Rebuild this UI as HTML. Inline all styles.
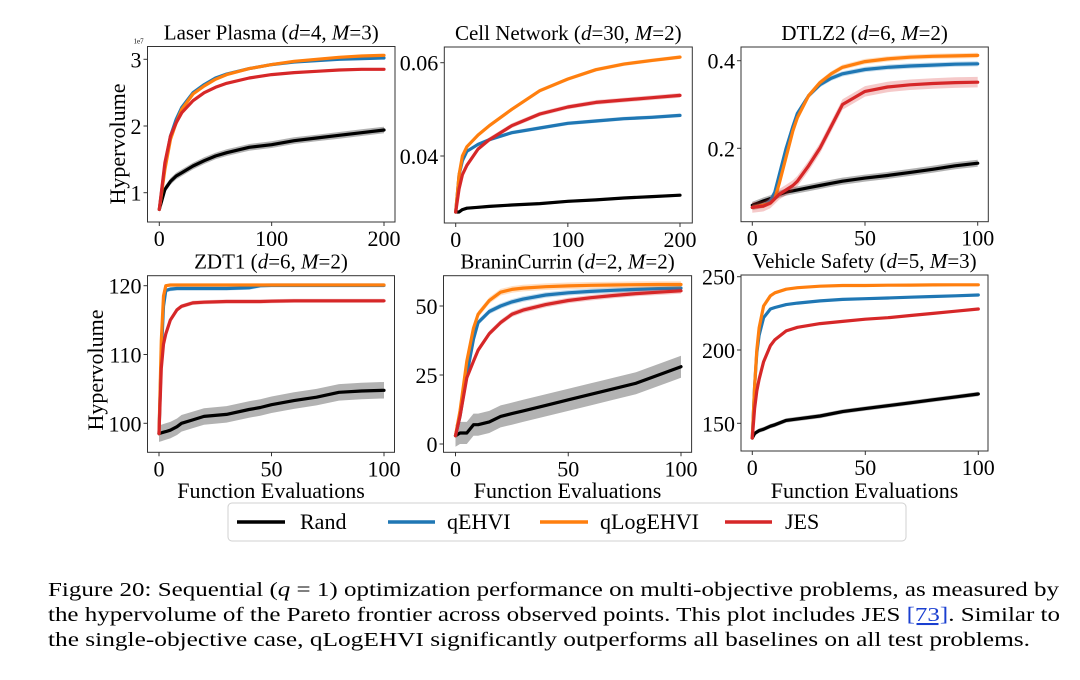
<!DOCTYPE html>
<html><head><meta charset="utf-8">
<style>
html,body{margin:0;padding:0;background:#fff;}
svg{display:block;font-family:"Liberation Serif",serif;}
</style></head>
<body>
<svg id="fig" width="1080" height="680" viewBox="0 0 1080 680" xmlns="http://www.w3.org/2000/svg">
<g id="plots"></g>
<g>
  <rect x="228" y="503" width="678" height="38" rx="4" fill="#fff" stroke="#d0d0d0" stroke-width="1"/>
  <line x1="237" y1="522" x2="285" y2="522" stroke="#000" stroke-width="3.5"/>
  <text x="300" y="529" font-size="22">Rand</text>
  <line x1="388" y1="522" x2="435" y2="522" stroke="#1f77b4" stroke-width="3.5"/>
  <text x="447" y="529" font-size="22">qEHVI</text>
  <line x1="540" y1="522" x2="588" y2="522" stroke="#ff7f0e" stroke-width="3.5"/>
  <text x="600" y="529" font-size="22">qLogEHVI</text>
  <line x1="725" y1="522" x2="772" y2="522" stroke="#d62728" stroke-width="3.5"/>
  <text x="785" y="529" font-size="22">JES</text>
</g>
<g font-size="20.5">
  <text x="48" y="596" textLength="1011" lengthAdjust="spacingAndGlyphs">Figure 20: Sequential (<tspan font-style="italic">q</tspan> = 1) optimization performance on multi-objective problems, as measured by</text>
  <text x="48" y="621" textLength="1012" lengthAdjust="spacingAndGlyphs">the hypervolume of the Pareto frontier across observed points. This plot includes JES <tspan fill="#1a3fd0" text-decoration="underline">[73]</tspan>. Similar to</text>
  <text x="48" y="646" textLength="982" lengthAdjust="spacingAndGlyphs">the single-objective case, qLogEHVI significantly outperforms all baselines on all test problems.</text>
</g>
</svg>
<script>
// ---- data ----
const laserX = [0,5,10,15,20,30,40,50,60,80,100,120,140,160,180,200];
const laserRand = [0.75,1.05,1.17,1.25,1.3,1.4,1.48,1.55,1.6,1.68,1.72,1.78,1.82,1.86,1.9,1.94];
const laserQEHVI = [0.75,1.4,1.85,2.1,2.28,2.5,2.62,2.72,2.78,2.86,2.92,2.96,2.98,3.0,3.01,3.02];
const laserQLog = [0.75,1.35,1.8,2.05,2.25,2.48,2.6,2.7,2.77,2.86,2.92,2.97,3.0,3.03,3.05,3.06];
const laserJES = [0.75,1.45,1.85,2.05,2.2,2.38,2.5,2.58,2.64,2.72,2.77,2.8,2.82,2.84,2.85,2.85];
const laserBand = [0.05,0.02,0.02,0.02];

const cellX = [0,3,6,10,20,30,50,75,100,125,150,175,200];
const cellRand = [0.028,0.028,0.0285,0.0288,0.029,0.0292,0.0295,0.0298,0.0303,0.0306,0.031,0.0313,0.0316];
const cellQEHVI = [0.028,0.036,0.039,0.041,0.0425,0.0435,0.045,0.046,0.047,0.0475,0.048,0.0483,0.0487];
const cellQLog = [0.028,0.036,0.04,0.042,0.0445,0.0465,0.050,0.054,0.0565,0.0585,0.0597,0.0605,0.0612];
const cellJES = [0.028,0.033,0.036,0.038,0.0415,0.0435,0.0465,0.049,0.0505,0.0515,0.052,0.0525,0.053];
const cellBand = [0.0003,0.0004,0.0004,0.0005];

const dtlzX = [0,5,8,10,12,15,18,20,25,30,35,40,50,60,70,80,90,100];
const dtlzRand = [0.07,0.08,0.085,0.09,0.095,0.1,0.103,0.105,0.11,0.115,0.12,0.125,0.132,0.138,0.145,0.152,0.16,0.166];
const dtlzQEHVI = [0.065,0.07,0.08,0.1,0.14,0.2,0.25,0.28,0.32,0.345,0.36,0.37,0.38,0.385,0.388,0.39,0.392,0.393];
const dtlzQLog = [0.065,0.07,0.075,0.085,0.12,0.18,0.24,0.27,0.32,0.35,0.37,0.385,0.398,0.404,0.408,0.41,0.411,0.412];
const dtlzJES = [0.065,0.068,0.075,0.085,0.095,0.105,0.115,0.125,0.16,0.2,0.25,0.3,0.33,0.34,0.345,0.348,0.35,0.351];
const dtlzBand = [0.008,0.006,0.006,0.012];

const zdtX = [0,1,2,3,5,8,10,15,20,30,40,45,50,60,70,80,90,100];
const zdtRand = [98.5,98.6,98.7,98.8,99,99.5,100,100.5,101,101.3,102,102.3,102.7,103.3,103.8,104.5,104.7,104.8];
const zdtQEHVI = [98.5,110,117,119.3,119.5,119.6,119.6,119.6,119.6,119.6,119.7,120,120.05,120.05,120.05,120.05,120.05,120.05];
const zdtQLog = [98.5,112,118.5,120,120.1,120.1,120.1,120.1,120.1,120.1,120.1,120.1,120.1,120.1,120.1,120.1,120.1,120.1];
const zdtJES = [98.5,108,111.5,113,115,116.5,117,117.5,117.6,117.7,117.7,117.7,117.75,117.8,117.8,117.8,117.8,117.8];
const zdtBand = [1.2,0.3,0.2,0.3];

const braninX = [0,2,5,8,10,15,20,25,30,40,50,60,70,80,90,100];
const braninRand = [3,4,4,7,7,8,10,11,12,14,16,18,20,22,25,28];
const braninQEHVI = [3,10,25,38,44,48,50,51.5,52.5,54,54.8,55.3,55.7,56,56.3,56.5];
const braninQLog = [3,12,30,42,47,52,55,56,56.5,57,57.3,57.5,57.6,57.7,57.8,57.8];
const braninJES = [3,10,24,30,34,40,44,47,48.5,50.5,52,53,53.8,54.5,55,55.5];
const braninBand = [4,1,1.2,1];

const vehicleX = [0,1,2,3,5,8,10,15,20,30,40,50,60,70,80,90,100];
const vehicleRand = [140,143,144,145,146,148,149,152,153,155,158,160,162,164,166,168,170];
const vehicleQEHVI = [140,175,198,210,222,228,229,231,232,233.5,234.5,235,235.5,236,236.5,237,237.5];
const vehicleQLog = [140,175,200,215,230,237,239,241.5,242.5,243.5,244,244,244.2,244.3,244.4,244.5,244.5];
const vehicleJES = [140,160,172,180,192,203,207,213,215.5,218,219.5,221,222,223.5,225,226.5,228];
const vehicleBand = [1.5,0.8,0.6,0.8];

const laserXTicks = [0,100,200], laserYTicks = [1,2,3];
const cellXTicks = [0,100,200], cellYTicks = [0.04,0.06];
const dtlzXTicks = [0,50,100], dtlzYTicks = [0.2,0.4];
const zdtXTicks = [0,50,100], zdtYTicks = [100,110,120];
const braninXTicks = [0,50,100], braninYTicks = [0,25,50];
const vehicleXTicks = [0,50,100], vehicleYTicks = [150,200,250];

// ---- layout ----
const NS = "http://www.w3.org/2000/svg";
const COLORS = ["#000000","#1f77b4","#ff7f0e","#d62728"];
const SNAMES = ["rand","qehvi","qlogehvi","jes"];
const plots = [
 {id:"laser-plasma", title:'Laser Plasma (<tspan font-style="italic">d</tspan>=4, <tspan font-style="italic">M</tspan>=3)', box:[147.5,46.5,395,222], xa:[0,159.3,200,384], ya:[1,192.7,3,59.3], x:laserX, s:[laserRand,laserQEHVI,laserQLog,laserJES], band:laserBand, xt:laserXTicks, yt:laserYTicks, fmt:v=>String(v), ylab:[118,144], xlab:false, exp:true},
 {id:"cell-network", title:'Cell Network (<tspan font-style="italic">d</tspan>=30, <tspan font-style="italic">M</tspan>=2)', box:[444.3,47,692.3,223], xa:[0,455.7,200,680], ya:[0.04,156,0.06,62.7], x:cellX, s:[cellRand,cellQEHVI,cellQLog,cellJES], band:cellBand, xt:cellXTicks, yt:cellYTicks, fmt:v=>v.toFixed(2), ylab:null, xlab:false},
 {id:"dtlz2", title:'DTLZ2 (<tspan font-style="italic">d</tspan>=6, <tspan font-style="italic">M</tspan>=2)', box:[741,47,988.3,221.7], xa:[0,752.3,100,977.7], ya:[0.2,148.3,0.4,60.7], x:dtlzX, s:[dtlzRand,dtlzQEHVI,dtlzQLog,dtlzJES], band:dtlzBand, xt:dtlzXTicks, yt:dtlzYTicks, fmt:v=>v.toFixed(1), ylab:null, xlab:false},
 {id:"zdt1", title:'ZDT1 (<tspan font-style="italic">d</tspan>=6, <tspan font-style="italic">M</tspan>=2)', box:[147.5,275.7,394.5,452.3], xa:[0,159,100,384], ya:[100,423.3,120,285.7], x:zdtX, s:[zdtRand,zdtQEHVI,zdtQLog,zdtJES], band:zdtBand, xt:zdtXTicks, yt:zdtYTicks, fmt:v=>String(v), ylab:[96,370], xlab:true},
 {id:"branin-currin", title:'BraninCurrin (<tspan font-style="italic">d</tspan>=2, <tspan font-style="italic">M</tspan>=2)', box:[443.5,275.7,691.6,452.3], xa:[0,455.5,100,681], ya:[0,444,50,306], x:braninX, s:[braninRand,braninQEHVI,braninQLog,braninJES], band:braninBand, xt:braninXTicks, yt:braninYTicks, fmt:v=>String(v), ylab:null, xlab:true},
 {id:"vehicle-safety", title:'Vehicle Safety (<tspan font-style="italic">d</tspan>=5, <tspan font-style="italic">M</tspan>=3)', box:[741,275,988,451], xa:[0,752.3,100,978.3], ya:[150,423.3,200,350], x:vehicleX, s:[vehicleRand,vehicleQEHVI,vehicleQLog,vehicleJES], band:vehicleBand, xt:vehicleXTicks, yt:vehicleYTicks, fmt:v=>String(v), ylab:null, xlab:true}
];

function mk(tag, attrs, parent){
  const e = document.createElementNS(NS, tag);
  for (const k in attrs) e.setAttribute(k, attrs[k]);
  parent.appendChild(e);
  return e;
}
const root = document.getElementById("plots");
plots.forEach(p => {
  const g = mk("g", {}, root);
  
  
  const [bx0,by0,bx1,by1] = p.box;
  const sx = v => p.xa[1] + (v - p.xa[0]) * (p.xa[3] - p.xa[1]) / (p.xa[2] - p.xa[0]);
  const sy = v => p.ya[1] + (v - p.ya[0]) * (p.ya[3] - p.ya[1]) / (p.ya[2] - p.ya[0]);
  const clipId = "clip-" + p.id;
  const cp = mk("clipPath", {id: clipId}, g);
  mk("rect", {x:bx0, y:by0, width:bx1-bx0, height:by1-by0}, cp);
  const data = mk("g", {"clip-path":"url(#"+clipId+")"}, g);
  p.s.forEach((ser, si) => {
    const b = p.band[si];
    const up = p.x.map((xv,i)=> sx(xv).toFixed(1)+","+sy(ser[i]+b).toFixed(1));
    const dn = p.x.map((xv,i)=> sx(xv).toFixed(1)+","+sy(ser[i]-b).toFixed(1)).reverse();
    const band = mk("polygon", {points: up.concat(dn).join(" "), fill: COLORS[si], "fill-opacity": si===0?0.3:0.25, stroke:"none"}, data);
    
    
    const line = mk("polyline", {points: p.x.map((xv,i)=> sx(xv).toFixed(1)+","+sy(ser[i]).toFixed(1)).join(" "), fill:"none", stroke: COLORS[si], "stroke-width": 3.2, "stroke-linejoin":"round", "stroke-linecap":"round"}, data);
    
    
  });
  const frame = mk("rect", {x:bx0, y:by0, width:bx1-bx0, height:by1-by0, fill:"none", stroke:"#333", "stroke-width":1}, g);
  
  
  p.xt.forEach(t => {
    const X = sx(t);
    mk("line", {x1:X, y1:by1, x2:X, y2:by1+4, stroke:"#333", "stroke-width":1}, g);
    const tx = mk("text", {x:X, y:by1+24, "font-size":22, "text-anchor":"middle"}, g);
    tx.textContent = String(t);
    
    
  });
  p.yt.forEach(t => {
    const Y = sy(t);
    mk("line", {x1:bx0-4, y1:Y, x2:bx0, y2:Y, stroke:"#333", "stroke-width":1}, g);
    const tx = mk("text", {x:bx0-6, y:Y+8, "font-size":22, "text-anchor":"end"}, g);
    tx.textContent = p.fmt(t);
    
    
  });
  const title = mk("text", {x:(bx0+bx1)/2, y:by0-7, "font-size":21, "text-anchor":"middle"}, g);
  title.innerHTML = p.title;
  
  
  if (p.exp) {
    const e = mk("text", {x:bx0-14, y:by0-3, "font-size":7}, g);
    e.textContent = "1e7";
    
    
  }
  if (p.ylab) {
    const yl = mk("text", {x:p.ylab[0], y:p.ylab[1], "font-size":22, "text-anchor":"middle", transform:"rotate(-90 "+p.ylab[0]+" "+p.ylab[1]+")", dy:"7"}, g);
    yl.textContent = "Hypervolume";
    
    
  }
  if (p.xlab) {
    const xl = mk("text", {x:(bx0+bx1)/2, y:498, "font-size":22, "text-anchor":"middle"}, g);
    xl.textContent = "Function Evaluations";
    
    
  }
});
</script>
</body></html>
